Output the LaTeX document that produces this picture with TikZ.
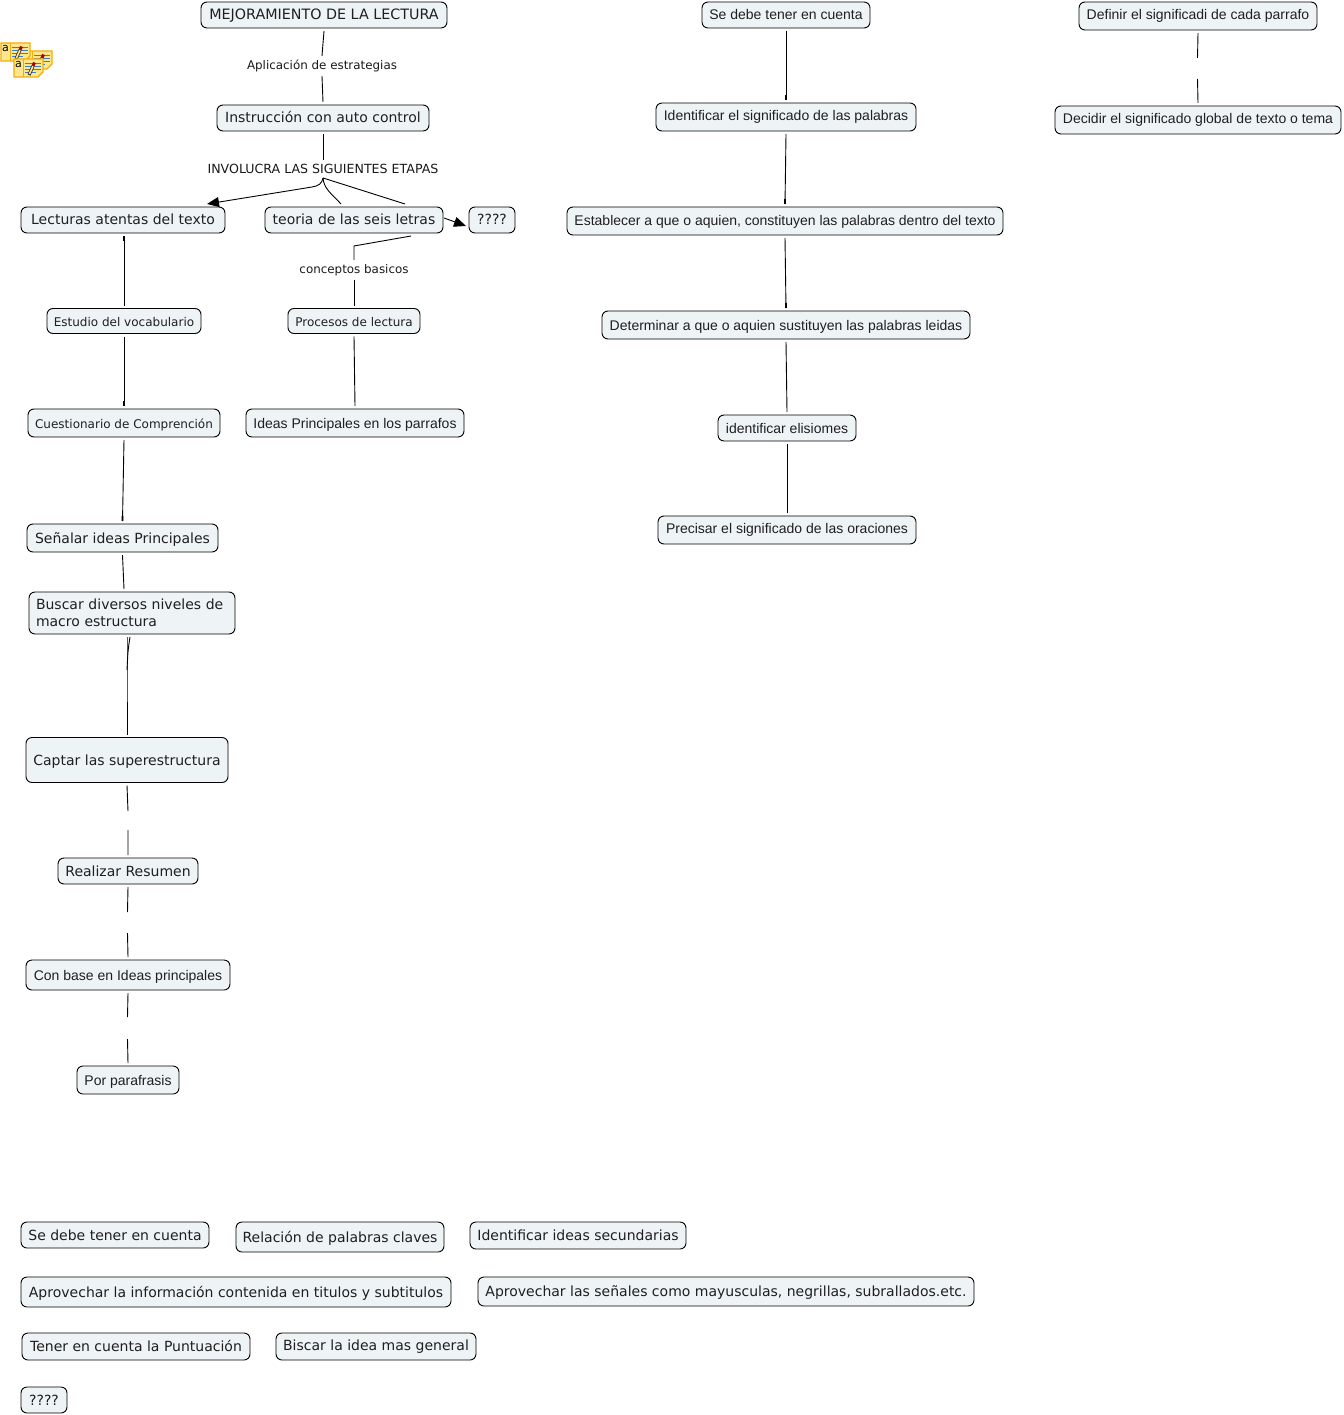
\documentclass[tikz,border=0pt]{standalone}
\usepackage{fontspec}
\setmainfont{Liberation Sans}
\newfontfamily\vfont{DejaVu Sans}
\usetikzlibrary{arrows.meta}
\definecolor{boxfill}{HTML}{EEF4F6}
\definecolor{notefill}{HTML}{FFE58C}
\definecolor{noteline}{HTML}{EFAE0A}
\definecolor{noteblue}{HTML}{3B7FC4}
\tikzset{
  cbox/.style={draw=black,fill=boxfill,rounded corners=6pt,line width=.9pt,inner sep=0pt,outer sep=3pt,text=black!88,text height=11pt,text depth=1pt},
  alta/.style={text height=10pt,text depth=3pt},
  sz/.style 2 args={minimum width=#1pt,minimum height=#2pt},
  big/.style={font=\vfont\fontsize{14}{17}\selectfont},
  mid/.style={font=\vfont\fontsize{12}{15}\selectfont},
  ari/.style={font=\fontsize{14}{17}\selectfont},
  clab/.style={font=\vfont\fontsize{11.9}{14}\selectfont,inner xsep=0pt,inner ysep=4pt,text=black!90},
  conn/.style={line width=.9pt},
  nub/.style={-{Rectangle[length=5pt,width=1.8pt]},line width=.9pt},
  tip/.style={-{Triangle[length=12pt,width=10pt]},line width=.9pt}
}
\begin{document}
\begin{tikzpicture}[x=1pt,y=-1pt]
\useasboundingbox (0,0) rectangle (1343,1415);
% notes icon
\foreach \ix/\iy/\il in {23/51/{},1/43/a,14/59/a} {
  \begin{scope}[shift={(\ix,\iy)}]
  \draw[draw=noteline,fill=notefill,line width=1.2pt] (0,0) -- (29,0) -- (29,13) -- (24,18) -- (0,18) -- cycle;
  \draw[draw=noteline,line width=.6pt] (9,0) -- (9,18);
  \draw[noteblue,line width=.8pt] (11,4) -- (27,4) (11,7) -- (27,7) (11,10) -- (27,10) (11,13) -- (22,13);
  \draw[black!80,line width=3.2pt] (15,16) -- (19,7);
  \draw[notefill,line width=1.6pt] (15.4,15) -- (19,7);
  \draw[red!70!black,line width=3pt] (19,7) -- (20.5,3.5);
  \node[font=\vfont\fontsize{11}{11}\selectfont,inner sep=0pt] at (4.5,5.5) {\il};
  \end{scope}
}
% left column
\node[cbox,big,font=\vfont\fontsize{14.3}{17}\selectfont,sz={246}{26}] (titulo) at (324,15) {MEJORAMIENTO DE LA LECTURA};
\node[clab] (aplica) at (322,66) {Aplicación de estrategias};
\node[cbox,big,sz={212}{26}] (instruc) at (323,118) {Instrucción con auto control};
\node[clab,font=\vfont\fontsize{12.6}{14}\selectfont] (etapas) at (323,169) {INVOLUCRA LAS SIGUIENTES ETAPAS};
\node[cbox,big,sz={204}{26}] (lecturas) at (123,220) {Lecturas atentas del texto\hspace{4pt}};
\node[cbox,big,sz={178}{26}] (teoria) at (354,220) {teoria de las seis letras};
\node[cbox,big,sz={46}{26}] (preg) at (492,220) {????};
\node[clab] (conceptos) at (354,270) {conceptos basicos};
\node[cbox,mid,sz={154}{25}] (estudio) at (124,321) {Estudio del vocabulario};
\node[cbox,mid,sz={132}{25}] (procesos) at (354,321) {Procesos de lectura};
\node[cbox,mid,sz={192}{28}] (cuestion) at (124,423) {Cuestionario de Comprención};
\node[cbox,ari,sz={218}{28}] (ideas) at (355,423) {Ideas Principales en los parrafos};
\node[cbox,big,sz={191}{28}] (senalar) at (122.5,538) {Señalar ideas Principales};
\node[cbox,big,sz={206}{42},text width=192pt,align=left,text height=,text depth=] (buscar) at (132,613) {Buscar diversos niveles de\\macro estructura};
\node[cbox,big,sz={202}{45}] (captar) at (127,760) {Captar las superestructura};
\node[cbox,big,sz={140}{26}] (resumen) at (128,871) {Realizar Resumen};
\node[cbox,ari,sz={204}{30}] (conbase) at (128,975) {Con base en Ideas principales};
\node[cbox,ari,sz={102}{28}] (parafr) at (128,1080) {Por parafrasis};
% middle column
\node[cbox,ari,sz={168}{26}] (sedebe) at (786,15) {Se debe tener en cuenta};
\node[cbox,ari,alta,sz={260}{28}] (identif) at (786,117) {Identificar el significado de las palabras};
\node[cbox,ari,sz={436}{28}] (establ) at (785,221) {Establecer a que o aquien, constituyen las palabras dentro del texto};
\node[cbox,ari,sz={368}{28}] (determ) at (786,325) {Determinar a que o aquien sustituyen las palabras leidas};
\node[cbox,ari,sz={138}{26}] (elisio) at (787,428) {identificar elisiomes};
\node[cbox,ari,alta,sz={258}{28}] (precisar) at (787,530) {Precisar el significado de las oraciones};
% right column
\node[cbox,ari,alta,sz={238}{28}] (definir) at (1198,16) {Definir el significadi de cada parrafo};
\node[cbox,ari,alta,sz={286}{28}] (decidir) at (1198,120) {Decidir el significado global de texto o tema};
% bottom rows
\node[cbox,big,sz={188}{26}] (sueltoa) at (115,1235) {Se debe tener en cuenta};
\node[cbox,big,sz={208}{30}] (sueltob) at (340,1237) {Relación de palabras claves};
\node[cbox,big,sz={216}{27}] (sueltoc) at (578,1235.5) {Identificar ideas secundarias};
\node[cbox,big,sz={430}{30}] (sueltod) at (236,1292) {Aprovechar la información contenida en titulos y subtitulos};
\node[cbox,big,sz={496}{29}] (sueltoe) at (726,1291.5) {Aprovechar las señales como mayusculas, negrillas, subrallados.etc.};
\node[cbox,big,sz={228}{27}] (sueltof) at (136,1346.5) {Tener en cuenta la Puntuación};
\node[cbox,big,alta,sz={200}{27}] (sueltog) at (376,1346.5) {Biscar la idea mas general};
\node[cbox,big,sz={46}{26}] (sueltoh) at (44,1400) {????};
% connectors
\draw[conn] (titulo.south) -- (aplica.north);
\draw[conn] (aplica.south) -- (instruc.north);
\draw[conn] (instruc.south) -- (etapas.north);
\draw[tip] (etapas.south) .. controls (322,184) and (318,186) .. (312,187) -- ([xshift=84pt]lecturas.north);
\draw[conn] (etapas.south) .. controls (324,189) and (331,193) .. ([xshift=-13pt]teoria.north);
\draw[conn] (etapas.south) -- ([xshift=51pt]teoria.north);
\draw[tip] ([yshift=2pt,xshift=-2pt]teoria.east) -- ([yshift=-6pt]preg.west);
\draw[conn] ([xshift=57pt]teoria.south) -- (354,246) -- (conceptos.north);
\draw[conn] (conceptos.south) -- (procesos.north);
\draw[nub] (estudio.north) -- ([xshift=1pt]lecturas.south);
\draw[nub] (estudio.south) -- (cuestion.north);
\draw[conn] (procesos.south) -- (ideas.north);
\draw[nub] (cuestion.south) -- (senalar.north);
\draw[conn] (senalar.south) -- ([xshift=-8pt]buscar.north);
\coordinate (juntura) at (127,670);
\draw[conn] ([xshift=-5pt]buscar.south) -- (juntura) -- (captar.north);
\draw[conn] ([xshift=-2pt]buscar.south) .. controls (128,650) .. (juntura);
\draw[nub] (sedebe.south) -- (identif.north);
\draw[nub] (identif.south) -- (establ.north);
\draw[nub] (establ.south) -- (determ.north);
\draw[conn] (determ.south) -- (elisio.north);
\draw[conn] (elisio.south) -- (precisar.north);
% broken connectors
\coordinate (cortea) at (128,811);
\coordinate (corteb) at (128,830);
\coordinate (cortec) at (127.5,912);
\coordinate (corted) at (127.5,933);
\coordinate (cortee) at (127.5,1017);
\coordinate (cortef) at (127.5,1039);
\coordinate (corteg) at (1197.5,58);
\coordinate (corteh) at (1197.5,79);
\draw[conn] (captar.south) -- (cortea) (corteb) -- (resumen.north);
\draw[conn] (resumen.south) -- (cortec) (corted) -- (conbase.north);
\draw[conn] (conbase.south) -- (cortee) (cortef) -- (parafr.north);
\draw[conn] (definir.south) -- (corteg) (corteh) -- (decidir.north);
\end{tikzpicture}
\end{document}
